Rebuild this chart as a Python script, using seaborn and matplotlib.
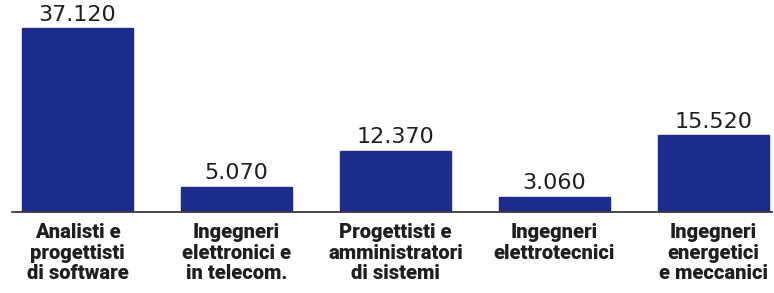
import matplotlib
matplotlib.use("Agg")
import matplotlib.pyplot as plt
import seaborn as sns
import pandas as pd

categories = [
    "Analisti e\nprogettisti\ndi software",
    "Ingegneri\nelettronici e\nin telecom.",
    "Progettisti e\namministratori\ndi sistemi",
    "Ingegneri\nelettrotecnici",
    "Ingegneri\nenergetici\ne meccanici",
]
values = [37120, 5070, 12370, 3060, 15520]
value_labels = ["37.120", "5.070", "12.370", "3.060", "15.520"]

df = pd.DataFrame({"cat": categories, "val": values})

sns.set_theme(style="white")
plt.rcParams["font.family"] = ["Roboto", "DejaVu Sans"]

fig = plt.figure(figsize=(7.74, 2.93), dpi=100)
ax = fig.add_axes([12 / 774, (293 - 212) / 293, 760 / 774, 212 / 293])

sns.barplot(data=df, x="cat", y="val", color="#1c2c8e", width=0.70,
            saturation=1, ax=ax, edgecolor="#1c2c8e")

ax.set_xlim(-0.412, 4.368)
ax.set_ylim(0, 42770)

for i, (v, lab) in enumerate(zip(values, value_labels)):
    ax.annotate(lab, (i, v), xytext=(0, 2.5), textcoords="offset points",
                ha="center", va="bottom", fontsize=16, color="#1f1f1f",
                family=["DejaVu Sans"])

ax.set_xticks(range(len(categories)))
ax.set_xticklabels(categories, fontsize=14.5, fontweight="heavy",
                   color="#1f1f1f", linespacing=1.1)
ax.tick_params(axis="x", length=0, pad=8)
ax.set_yticks([])
ax.set_xlabel("")
ax.set_ylabel("")
for s in ["top", "right", "left"]:
    ax.spines[s].set_visible(False)
ax.spines["bottom"].set_color("#3a3a3a")
ax.spines["bottom"].set_linewidth(1.3)

fig.savefig("out.png", dpi=100, facecolor="white")
